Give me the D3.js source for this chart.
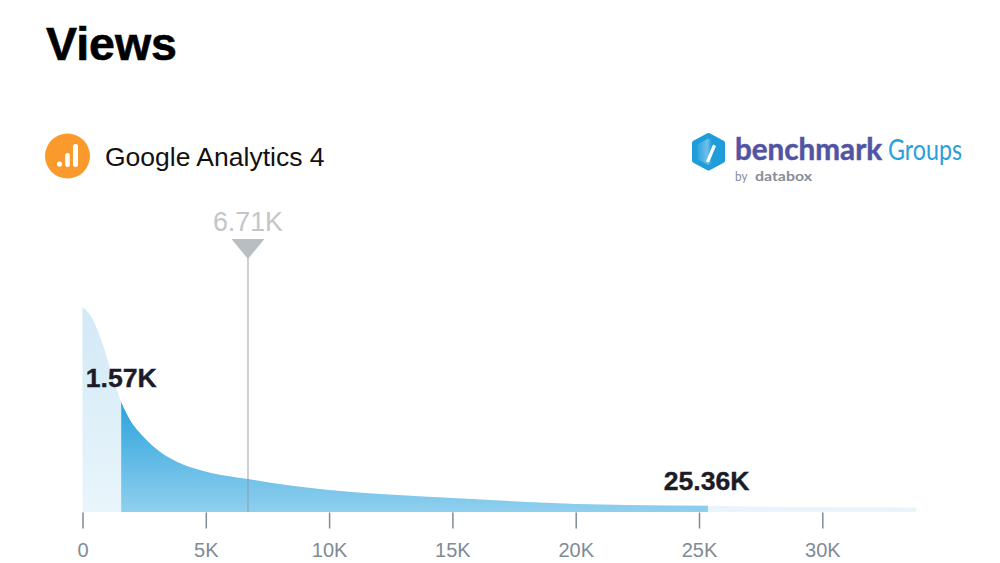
<!DOCTYPE html>
<html>
<head>
<meta charset="utf-8">
<script src="https://cdn.jsdelivr.net/npm/d3@7"></script>
<style>
  html, body { margin: 0; padding: 0; background: #fff; }
  svg { display: block; font-family: "Liberation Sans", Arial, sans-serif; }
</style>
</head>
<body>
<svg id="chart" width="1000" height="563"></svg>
<script>
// values (x in thousands of views, density is relative)
var viewsK = [0, 0.1, 0.25, 0.43, 0.83, 1.2, 1.57, 1.93, 2.47, 3.14, 3.82, 4.48, 5.17, 6.71, 8.41, 9.9, 11.9, 14, 16, 18, 20, 22, 25.36, 27, 30, 33.8];
var density = [204.5, 203, 199, 192, 167, 137, 110, 92, 75.3, 60.3, 50.3, 44, 39.3, 33, 26.5, 22.3, 18.3, 15.3, 12.8, 10, 8, 7, 6.2, 5.5, 5, 4.5];
var tickValues = [0, 5, 10, 15, 20, 25, 30];
var tickLabels = ['0', '5K', '10K', '15K', '20K', '25K', '30K'];
var lowValue = 1.57, highValue = 25.36, markerValue = 6.71;
var lowLabel = '1.57K', highLabel = '25.36K', markerLabel = '6.71K';

var svg = d3.select('#chart');
var points = viewsK.map(function(d, i){ return {x: d, y: density[i]}; });

var x = d3.scaleLinear().domain([0, 30]).range([82.5, 822.3]);
var y = d3.scaleLinear().domain([0, 204.5]).range([512, 307.5]);

var area = d3.area()
  .x(function(d){ return x(d.x); })
  .y0(y(0))
  .y1(function(d){ return y(d.y); })
  .curve(d3.curveMonotoneX);

var defs = svg.append('defs');
function gradient(id, y1, y2, c1, c2){
  var g = defs.append('linearGradient').attr('id', id)
    .attr('gradientUnits', 'userSpaceOnUse')
    .attr('x1', 0).attr('x2', 0).attr('y1', y1).attr('y2', y2);
  g.append('stop').attr('offset', 0).attr('stop-color', c1);
  g.append('stop').attr('offset', 1).attr('stop-color', c2);
}
gradient('lightFill', 307, 512, '#d2e9f6', '#e9f5fb');
gradient('darkFill', 402, 512, '#2ba3dc', '#90cfee');
var hexFill = defs.append('linearGradient').attr('id', 'hexFill')
  .attr('x1', 0).attr('x2', 1).attr('y1', 0.2).attr('y2', 0.2);
hexFill.append('stop').attr('offset', 0).attr('stop-color', '#1b9ad9');
hexFill.append('stop').attr('offset', 0.45).attr('stop-color', '#6fc0e8');
hexFill.append('stop').attr('offset', 0.62).attr('stop-color', '#1f9ddb');
defs.append('clipPath').attr('id', 'midClip').append('rect')
  .attr('x', x(lowValue)).attr('y', 0)
  .attr('width', x(highValue) - x(lowValue)).attr('height', 563);

// title
svg.append('text').attr('x', 46).attr('y', 59.5)
  .style('font-size', '46.5px').style('font-weight', 'bold').style('fill', '#000')
  .style('stroke', '#000').style('stroke-width', '0.6px')
  .text('Views');

// data source
svg.append('circle').attr('cx', 67.5).attr('cy', 156).attr('r', 22.5).attr('fill', '#fb9a2c');
svg.append('circle').attr('cx', 59.5).attr('cy', 164).attr('r', 2.6).attr('fill', '#fff');
svg.append('rect').attr('x', 65.2).attr('y', 153).attr('width', 4.6).attr('height', 14).attr('rx', 2).attr('fill', '#fff');
svg.append('rect').attr('x', 73).attr('y', 144).attr('width', 5).attr('height', 23).attr('rx', 2.2).attr('fill', '#fff');
svg.append('text').attr('x', 105).attr('y', 166)
  .style('font-size', '26.5px').style('fill', '#111')
  .text('Google Analytics 4');

// benchmark logo
var hexagon = d3.line()([[708.5, 135.5], [722.5, 143], [722.5, 160.5], [708.5, 168], [694.5, 160.5], [694.5, 143]]) + 'Z';
svg.append('path').attr('d', hexagon).attr('fill', 'url(#hexFill)')
  .attr('stroke', '#1f9ddb').attr('stroke-width', 5).attr('stroke-linejoin', 'round');
svg.append('path').attr('d', 'M706 161.5L713 144.5L716 146L709 162.5Z').attr('fill', '#fff');
svg.append('text').attr('x', 735).attr('y', 160).attr('textLength', 147).attr('lengthAdjust', 'spacingAndGlyphs')
  .style('font-family', 'Lato').style('font-weight', 'bold').style('font-size', '30px').style('fill', '#5254a3')
  .style('stroke', '#5254a3').style('stroke-width', '0.5px')
  .text('benchmark');
svg.append('text').attr('x', 888).attr('y', 160).attr('textLength', 74).attr('lengthAdjust', 'spacingAndGlyphs')
  .style('font-family', 'Lato').style('font-size', '28px').style('fill', '#2a9fdb')
  .text('Groups');
svg.append('text').attr('x', 735).attr('y', 181).attr('textLength', 12.5).attr('lengthAdjust', 'spacingAndGlyphs')
  .style('font-family', 'Lato').style('font-size', '13px').style('fill', '#8a8c99')
  .text('by');
svg.append('text').attr('x', 755).attr('y', 181).attr('textLength', 57).attr('lengthAdjust', 'spacingAndGlyphs')
  .style('font-family', 'Lato').style('font-weight', 'bold').style('font-size', '14px').style('fill', '#8a8c99')
  .text('databox');

// distribution
svg.append('path').datum(points).attr('d', area).attr('fill', 'url(#lightFill)');
svg.append('path').datum(points).attr('d', area).attr('fill', 'url(#darkFill)').attr('clip-path', 'url(#midClip)');

// axis
var axis = d3.axisBottom(x)
  .tickValues(tickValues)
  .tickFormat(function(d, i){ return tickLabels[i]; })
  .tickSize(16)
  .tickPadding(14);
var axisG = svg.append('g').attr('transform', 'translate(0,512.5)').call(axis);
axisG.select('.domain').remove();
axisG.selectAll('.tick line').attr('stroke', '#7f8b95').attr('stroke-width', 1.5);
axisG.selectAll('.tick text')
  .style('font-family', '"Liberation Sans", Arial, sans-serif')
  .style('font-size', '20px').style('fill', '#7f8b95');

// median marker
svg.append('line').attr('x1', x(markerValue)).attr('x2', x(markerValue))
  .attr('y1', 255).attr('y2', y(0))
  .attr('stroke', '#8f979e').attr('stroke-opacity', 0.55).attr('stroke-width', 1.6);
svg.append('path')
  .attr('d', d3.line()([[x(markerValue) - 16.5, 239], [x(markerValue) + 16.5, 239], [x(markerValue), 259]]) + 'Z')
  .attr('fill', '#b9bec3');
svg.append('text').attr('x', x(markerValue)).attr('y', 230.5).attr('text-anchor', 'middle')
  .style('font-size', '26.8px').style('fill', '#c3c6c9')
  .text(markerLabel);

// range labels
function rangeLabel(value, label, baseline){
  svg.append('text').attr('x', x(value)).attr('y', baseline).attr('text-anchor', 'middle')
    .style('font-size', '26.6px').style('font-weight', 'bold').style('fill', '#1c1c28')
    .style('paint-order', 'stroke').style('stroke', '#1c1c28').style('stroke-width', '0.4px')
    .text(label);
}
rangeLabel(lowValue, lowLabel, 387);
rangeLabel(highValue - 0.05, highLabel, 490);
</script>
</body>
</html>
